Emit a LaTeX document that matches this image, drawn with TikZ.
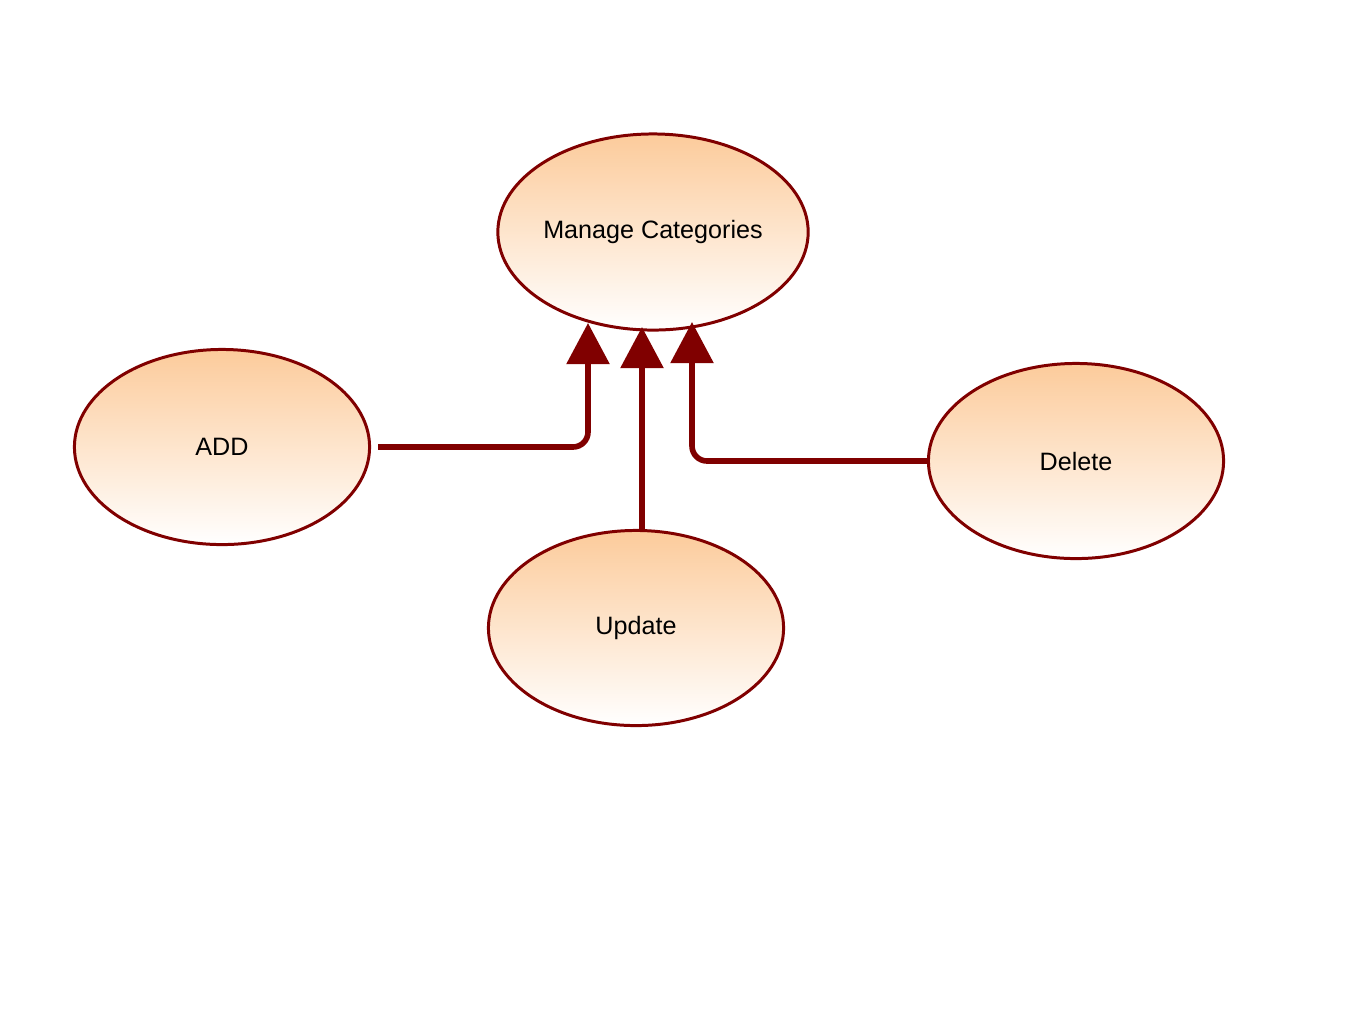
\documentclass[tikz,border=0pt]{standalone}
\usepackage{fontspec}
\setmainfont{Liberation Sans}
\usetikzlibrary{arrows.meta,shapes.geometric}
\definecolor{maroon}{HTML}{800000}
\definecolor{peach}{HTML}{FCCB9B}
\tikzset{
  usecase/.style={ellipse,draw=maroon,line width=0.85pt,top color=peach,bottom color=white,
    minimum width=2.95cm,minimum height=1.95cm,inner sep=0pt,font=\fontsize{7.15}{8.5}\selectfont},
  flow/.style={draw=maroon,line width=1.6pt,rounded corners=0.15cm,
    -{Triangle[length=4.1mm,width=4.2mm,round=false,sharp]}}
}
\begin{document}
\begin{tikzpicture}[x=0.01cm,y=-0.01cm]
    \useasboundingbox (0,0) rectangle (1346,1035);
    \node[usecase,minimum width=3.07cm,minimum height=1.96cm] (mc) at (653,232) {Manage Categories};
    \node[usecase] (add) at (222,447) {ADD};
    \node[usecase] (del) at (1076,461) {Delete};
    \node[usecase] (upd) at (636,628) {Update};
    \coordinate (tipa) at (588,323);
    \coordinate (tipu) at (642,327);
    \coordinate (tipd) at (692,322);
    \draw[flow] ([xshift=0.07cm]add.east) -| (tipa);
    \draw[flow] (upd.north -| tipu) -- (tipu);
    \draw[flow] (del.west) -| (tipd);
  \end{tikzpicture}
\end{document}
